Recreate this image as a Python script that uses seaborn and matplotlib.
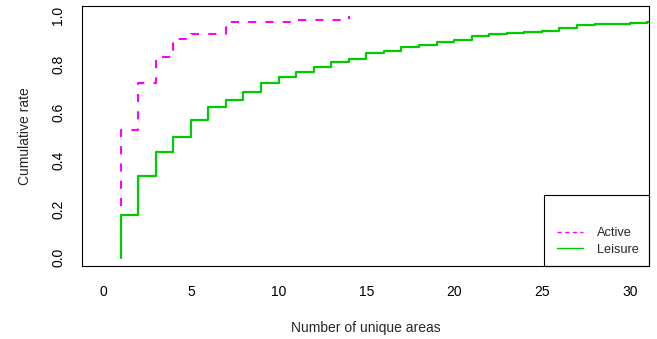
import matplotlib
matplotlib.use("Agg")
import matplotlib.pyplot as plt
import seaborn as sns
import pandas as pd
from matplotlib.lines import Line2D
from matplotlib.patches import Rectangle

# ---- data ----
active_x = [1, 1, 2, 3, 4, 5, 7, 11, 14]
active_y = [0.0, 0.529, 0.722, 0.828, 0.905, 0.926, 0.974, 0.984, 1.0]

leisure_x = [1, 1, 2, 3, 4, 5, 6, 7, 8, 9, 10, 11, 12, 13, 14, 15, 16, 17, 18,
             19, 20, 21, 22, 23, 24, 25, 26, 27, 28, 30, 31, 32]
leisure_y = [0.0, 0.174, 0.339, 0.438, 0.500, 0.567, 0.621, 0.653, 0.685, 0.722,
             0.745, 0.767, 0.786, 0.809, 0.822, 0.846, 0.853, 0.869, 0.877, 0.891,
             0.901, 0.915, 0.924, 0.927, 0.933, 0.938, 0.949, 0.960, 0.964, 0.970,
             0.972, 0.975]

series_labels = ["Active", "Leisure"]
x_ticks = [0, 5, 10, 15, 20, 25, 30]
y_ticks = [0.0, 0.2, 0.4, 0.6, 0.8, 1.0]

df_active = pd.DataFrame({"x": active_x, "y": active_y})
df_leisure = pd.DataFrame({"x": leisure_x, "y": leisure_y})

sns.set_style("white")
plt.rcParams["font.family"] = ["Liberation Sans", "DejaVu Sans"]

W, H = 657, 339
fig = plt.figure(figsize=(W / 100, H / 100), dpi=100)
L, R, T, B = 82, 649, 6, 266
ax = fig.add_axes([L / W, 1 - B / H, (R - L) / W, (B - T) / H])

MAG = "#FF00FF"
GRN = "#00CD00"

sns.lineplot(data=df_active, x="x", y="y", ax=ax, color=MAG, lw=1.5,
             estimator=None, sort=False, drawstyle="steps-post", linestyle="--")
ax.lines[-1].set_dashes((3.9, 4.4))
sns.lineplot(data=df_leisure, x="x", y="y", ax=ax, color=GRN, lw=1.6,
             estimator=None, sort=False, drawstyle="steps-post")

ax.set_xlim(-1.2, 31.1)
ax.set_ylim(-0.035, 1.04)
ax.set_xticks(x_ticks)
ax.set_xticklabels([str(v) for v in x_ticks])
ax.set_yticks(y_ticks)
ax.set_yticklabels([f"{v:.1f}" for v in y_ticks], rotation=90, va="center")

for s in ax.spines.values():
    s.set_visible(True)
    s.set_color("black")
    s.set_linewidth(0.8)

ax.tick_params(axis="both", direction="out", length=6, width=0.75, color="black",
               labelsize=10, labelcolor="black")
ax.tick_params(axis="x", pad=7.5)
ax.tick_params(axis="y", pad=6)

ax.set_xlabel("Number of unique areas", fontsize=10, labelpad=16)
ax.set_ylabel("Cumulative rate", fontsize=10, labelpad=14)

# legend box (R style, lower right)
ax.add_patch(Rectangle((0.815, 0.0), 0.185, 0.273, transform=ax.transAxes,
                       fill=False, ec="black", lw=0.8, clip_on=False, zorder=5))
handles = [Line2D([], [], color=MAG, lw=1.0, linestyle=(0, (3, 2.5))),
           Line2D([], [], color=GRN, lw=1.0)]
ax.legend(handles, series_labels, loc="center left", bbox_to_anchor=(0.838, 0.095),
          frameon=False, fontsize=9.2, handlelength=2.0, handletextpad=1.1,
          labelspacing=0.35, borderpad=0, borderaxespad=0)

fig.savefig("out.png", dpi=100)
